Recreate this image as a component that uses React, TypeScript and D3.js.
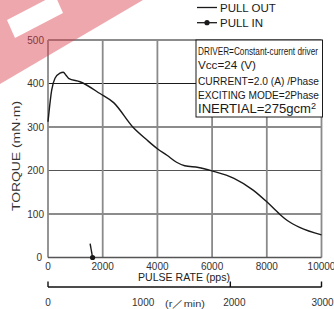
import React from 'react'
import * as d3 from 'd3'

// pull-out torque curve (pps, mN·m)
const pulloutPps = [0, 135, 256, 440, 560, 660, 750, 1170, 1900, 2400, 3100, 3620, 4000, 4350, 4700, 5000, 5500, 6000, 6800, 7500, 8000, 8480, 8750, 9200, 10000]
const pulloutTorque = [312, 385, 412, 424, 426, 419, 412, 404, 377, 356, 300, 270, 250, 235, 219, 211, 207, 199, 182, 155, 128, 99, 85, 69, 52]

// pull-in (only a short stub shown)
const pullinPps = [1540, 1630]
const pullinTorque = [32, 0]

const xTicks = [0, 2000, 4000, 6000, 8000, 10000]
const yTicks = [0, 100, 200, 300, 400, 500]
const rpmTicks = [0, 2000, 3000]
const rpmLabels = [0, 1000, 2000, 3000]

const infoLines = [
  'DRIVER=Constant-current driver',
  'Vcc=24 (V)',
  'CURRENT=2.0 (A) /Phase',
  'EXCITING MODE=2Phase',
]

const W = 334
const H = 309
const font = 'Liberation Sans, Arial, sans-serif'

export default function App() {
  const x = d3.scaleLinear().domain([0, 10000]).range([48, 321.5])
  const y = d3.scaleLinear().domain([0, 500]).range([257.5, 40])
  const r = d3.scaleLinear().domain([0, 3000]).range([48, 321.5])

  const line = d3.line<number>()
    .x((d, i) => x(pulloutPps[i]))
    .y((d) => y(d))
    .curve(d3.curveMonotoneX)

  const pinLine = d3.line<number>()
    .x((d, i) => x(pullinPps[i]))
    .y((d) => y(d))

  const x0 = x(0), x1 = x(10000)
  const yBottom = y(0), yTop = y(500)
  const rpmY = 287

  // rpm axis: baseline plus upward ticks at chosen values
  const rpmPath = `M${r(0)},${rpmY}H${r(3000)}` +
    rpmTicks.map(t => `M${r(t)},${rpmY - 5.5}V${rpmY}`).join('')

  return (
    <div style={{ position: 'absolute', left: 0, top: 0 }}>
      <svg width={W} height={H} style={{ display: 'block', background: '#fff' }} fontFamily={font}>
        {/* horizontal grid */}
        {yTicks.filter(t => t > 0).map(t => (
          <line key={'h' + t} x1={x0} x2={x1} y1={y(t)} y2={y(t)} stroke={t === 200 ? '#555' : '#1a1a1a'} strokeWidth={1.2} />
        ))}
        {/* vertical grid */}
        {xTicks.map(t => (
          <line key={'v' + t} x1={x(t)} x2={x(t)} y1={yTop} y2={yBottom} stroke="#8a8a8a" strokeWidth={1.8} />
        ))}
        <line x1={x0} x2={x1} y1={yBottom} y2={yBottom} stroke="#555" strokeWidth={1.5} />

        {/* y tick labels */}
        {yTicks.map(t => (
          <text key={'yl' + t} x={t === 0 ? 42 : 44} y={y(t) + 3.5} textAnchor="end" fontSize={10} fill="#333">{t}</text>
        ))}
        {/* x tick labels */}
        {xTicks.map(t => (
          <text key={'xl' + t} x={x(t)} y={269.5} textAnchor="middle" fontSize={10} fill="#333">{t}</text>
        ))}
        <text x={138} y={280.5} fontSize={10.5} fill="#222" textLength={92} lengthAdjust="spacingAndGlyphs">PULSE RATE (pps)</text>

        {/* rpm axis */}
        <path d={rpmPath} fill="none" stroke="#111" strokeWidth={1.4} />
        {rpmLabels.map(t => (
          <text key={'rl' + t} x={t === 0 ? r(t) : t === 3000 ? r(t) + 1 : r(t) + 4} y={306} textAnchor="middle" fontSize={10} fill="#333">{t}</text>
        ))}
        <text x={165} y={307} fontSize={9.5} fill="#333" textLength={40} lengthAdjust="spacingAndGlyphs">(r／min)</text>

        {/* y axis label */}
        <text transform="translate(20,156) rotate(-90)" textAnchor="middle" fontSize={10} fill="#333" textLength={110} lengthAdjust="spacingAndGlyphs">TORQUE (mN·m)</text>

        {/* curves */}
        <path d={line(pulloutTorque) ?? ''} fill="none" stroke="#1a1a1a" strokeWidth={1.4} />
        <path d={pinLine(pullinTorque) ?? ''} fill="none" stroke="#1a1a1a" strokeWidth={1.4} />
        <circle cx={x(pullinPps[1])} cy={y(pullinTorque[1])} r={2.6} fill="#1a1a1a" />

        {/* info box */}
        <rect x={196} y={40} width={126.5} height={77} fill="#fff" stroke="#1a1a1a" strokeWidth={1} />
        <text x={198} y={54.5} fontSize={10} fill="#1a1a1a" textLength={120} lengthAdjust="spacingAndGlyphs">{infoLines[0]}</text>
        <text x={198} y={68.5} fontSize={11.5} fill="#1a1a1a" textLength={58} lengthAdjust="spacingAndGlyphs">{infoLines[1]}</text>
        <text x={198} y={85} fontSize={11.5} fill="#1a1a1a" textLength={121} lengthAdjust="spacingAndGlyphs">{infoLines[2]}</text>
        <text x={198} y={98.5} fontSize={11.5} fill="#1a1a1a" textLength={121} lengthAdjust="spacingAndGlyphs">{infoLines[3]}</text>
        <text x={198} y={113} fontSize={13} fill="#1a1a1a" textLength={118} lengthAdjust="spacingAndGlyphs">INERTIAL=275gcm<tspan dy={-4.5} fontSize={9}>2</tspan></text>

        {/* legend */}
        <line x1={197} x2={217} y1={7.5} y2={7.5} stroke="#1a1a1a" strokeWidth={1.3} />
        <text x={220} y={12} fontSize={11.5} fill="#1a1a1a">PULL OUT</text>
        <line x1={197} x2={217} y1={22.7} y2={22.7} stroke="#1a1a1a" strokeWidth={1.3} />
        <circle cx={207} cy={22.7} r={2.6} fill="#1a1a1a" />
        <text x={220} y={27.3} fontSize={11.5} fill="#1a1a1a">PULL IN</text>

        {/* watermark band */}
        <polygon points="0,0 143,0 0,84" fill="rgb(220,60,75)" opacity={0.45} />
        <polygon points="7,20 55,-5 63,13 15,38" fill="#fff" />
      </svg>
    </div>
  )
}
